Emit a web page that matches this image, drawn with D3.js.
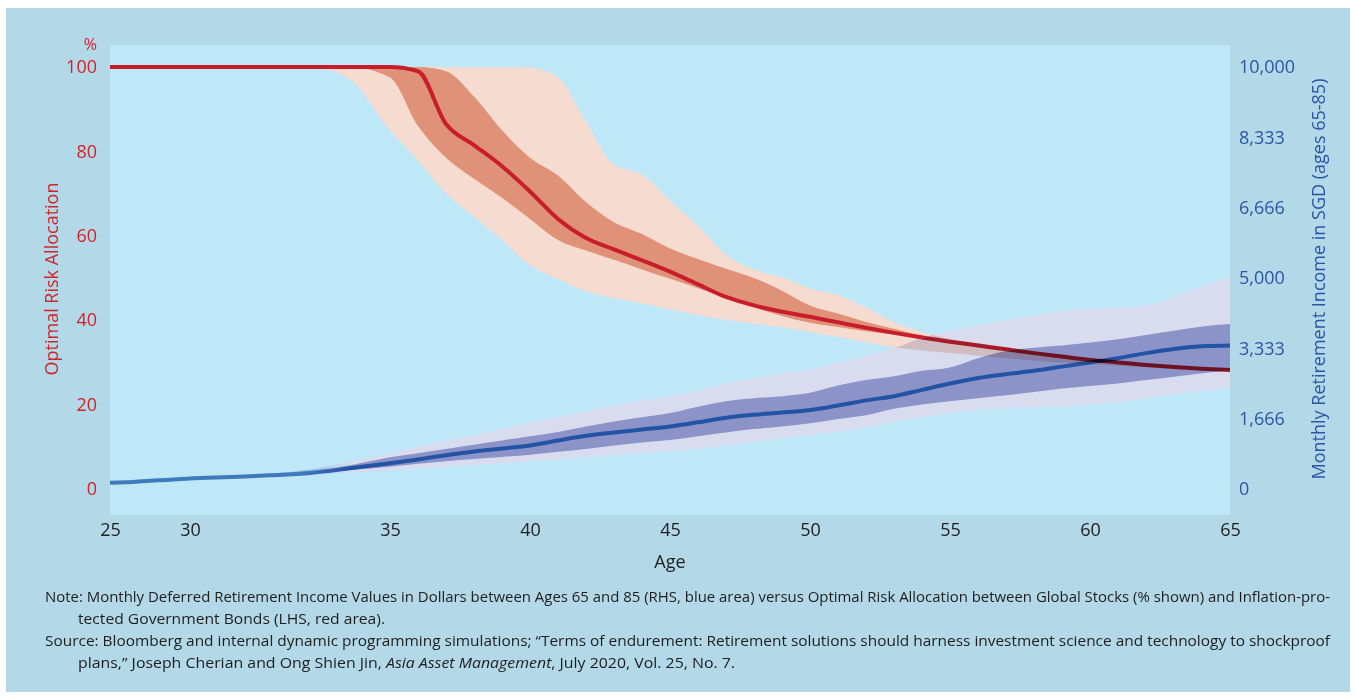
<!DOCTYPE html>
<html>
<head>
<meta charset="utf-8">
<script src="https://cdn.jsdelivr.net/npm/d3@7"></script>
<style>
  html, body { margin: 0; padding: 0; background: #fff; }
  svg { display: block; font-family: "Open Sans", "Noto Sans", sans-serif; }
</style>
</head>
<body>
<div id="chart"></div>
<script>
// ages on the x axis, one value per year
const ages = [25,26,27,28,29,30,31,32,33,34,35,36,37,38,39,40,41,42,43,44,45,
  46,47,48,49,50,51,52,53,54,55,56,57,58,59,60,61,62,63,64,65];

// optimal risk allocation, % in stocks (left axis)
const redMedian = [100,100,100,100,100,100,100,100,100,100,100,99,86.5,81.5,76.5,70.5,64,59.5,56.8,54.2,51.5,
  48.5,45.5,43.5,42,40.8,39.5,38.2,37,35.9,34.9,34,33.1,32.2,31.4,30.6,30,29.4,28.9,28.5,28.2];
const redInnerHi = [100,100,100,100,100,100,100,100,100,100,100,100,99,93,85,78.5,74.3,68,63.2,60.4,57,
  54.5,52.2,50,47,43.5,41.6,39.6,38,36.4,35.1,34.1,33.1,32.2,31.4,30.6,30,29.4,28.9,28.5,28.2];
const redInnerLo = [100,100,100,100,100,100,100,100,100,100,97.5,86,78.5,73.5,69,64,59,56.5,54.3,52,49.8,
  47.6,45.3,43,41,39.4,38.4,37.4,36.6,35.7,34.8,33.9,33.1,32.2,31.4,30.6,30,29.4,28.9,28.5,28.2];
const redOuterHi = [100,100,100,100,100,100,100,100,100,100,100,100,100,100,100,99.8,97.5,87,76.8,74.5,68.3,
  62.3,55.5,52,50.2,47.5,46,43,39.5,37.2,35.6,34.6,33.6,32.6,31.7,30.9,30.2,29.6,29.1,28.6,28.3];
const redOuterLo = [100,100,100,100,100,100,100,100,100,97,85,77.8,70,64.5,59,53,49.7,46.8,45.2,44,42.6,
  41.2,40.1,39.2,38.3,37.2,36,34.8,33.6,32.8,32.2,31.6,31,30.4,30,29.6,29.2,28.9,28.6,28.3,28.1];

// monthly retirement income, SGD (right axis)
const blueMedian = [150,160,185,205,225,250,285,325,380,490,610,700,800,890,960,1030,1150,1260,1340,1410,1480,
  1580,1690,1760,1810,1870,1980,2100,2200,2350,2500,2630,2720,2800,2900,3000,3100,3220,3320,3380,3400];
const blueInnerHi = [165,175,200,220,240,265,300,345,420,560,750,850,950,1050,1150,1250,1350,1480,1600,1700,1800,
  1950,2080,2150,2200,2280,2450,2580,2670,2800,2880,3100,3270,3350,3400,3470,3550,3650,3750,3850,3910];
const blueInnerLo = [135,145,170,190,210,235,270,305,350,450,530,600,660,710,760,810,880,950,1030,1100,1160,
  1250,1340,1420,1480,1560,1660,1750,1900,2000,2080,2150,2220,2300,2380,2440,2500,2580,2660,2740,2820];
const blueOuterHi = [180,190,215,235,255,285,320,365,460,650,850,1000,1150,1280,1420,1580,1700,1850,1980,2100,2200,
  2330,2500,2630,2740,2830,3000,3150,3340,3580,3750,3880,4000,4120,4220,4270,4300,4350,4550,4800,5020];
const blueOuterLo = [120,130,155,175,195,215,250,285,330,390,440,490,530,570,610,650,700,750,800,850,900,
  960,1030,1120,1200,1290,1360,1460,1590,1700,1800,1870,1920,1940,1950,2000,2060,2150,2250,2330,2390];

// tick labels
const xTicks = [25,30,35,40,45,50,55,60,65];
const leftTicks = [0,20,40,60,80,100];
const rightTicks = [0,1666.67,3333.33,5000,6666.67,8333.33,10000];
const rightTickLabels = ['0','1,666','3,333','5,000','6,666','8,333','10,000'];

const W = 1356, H = 697;
const plot = { left: 110, right: 1230, top: 45, bottom: 515 };

const svg = d3.select('#chart').append('svg').attr('width', W).attr('height', H);

svg.append('rect').attr('x', 6).attr('y', 8).attr('width', 1344).attr('height', 684).attr('fill', '#b3d8e7');
svg.append('rect').attr('x', plot.left).attr('y', plot.top)
  .attr('width', plot.right - plot.left).attr('height', plot.bottom - plot.top).attr('fill', '#bee7f8');

// the source axis is not uniform: 25-30 and 30-35 are squeezed/stretched
const x = d3.scaleLinear().domain([25, 30, 35, 65]).range([110, 190, 390, 1230]);
const yL = d3.scaleLinear().domain([0, 100]).range([489, 67]);
const yR = d3.scaleLinear().domain([0, 10000]).range([489, 67]);

const curve = d3.curveMonotoneX;
const band = (lo, hi, y) => d3.area().curve(curve)
  .x((d, i) => x(ages[i])).y0((d, i) => y(lo[i])).y1((d, i) => y(hi[i]))(ages);
const line = (v, y) => d3.line().curve(curve).x((d, i) => x(ages[i])).y((d, i) => y(v[i]))(ages);

const defs = svg.append('defs');
function grad(id, early, late) {
  const g = defs.append('linearGradient').attr('id', id).attr('gradientUnits', 'userSpaceOnUse')
    .attr('x1', x(25)).attr('x2', x(65)).attr('y1', 0).attr('y2', 0);
  const span = x(65) - x(25);
  g.append('stop').attr('offset', (x(32.8) - x(25)) / span).attr('stop-color', early);
  g.append('stop').attr('offset', (x(34) - x(25)) / span).attr('stop-color', late);
}
grad('gOuter', '#8cbde3', '#d8dcee');
grad('gInner', '#6aa3d5', '#8b93c8');
grad('gLine', '#3d7bbd', '#2452a5');

defs.append('clipPath').attr('id', 'blueClip')
  .append('path').attr('d', band(blueOuterLo, blueOuterHi, yR));

function drawRed(g) {
  g.append('path').attr('d', band(redOuterLo, redOuterHi, yL)).attr('fill', '#f6dbd0');
  g.append('path').attr('d', band(redInnerLo, redInnerHi, yL)).attr('fill', '#e09279');
  g.append('path').attr('d', line(redMedian, yL)).attr('fill', 'none')
    .attr('stroke', '#c81e2c').attr('stroke-width', 4);
}

drawRed(svg.append('g'));

const blue = svg.append('g');
blue.append('path').attr('d', band(blueOuterLo, blueOuterHi, yR)).attr('fill', 'url(#gOuter)');
blue.append('path').attr('d', band(blueInnerLo, blueInnerHi, yR)).attr('fill', 'url(#gInner)');
blue.append('path').attr('d', line(blueMedian, yR)).attr('fill', 'none')
  .attr('stroke', 'url(#gLine)').attr('stroke-width', 4);

// red drawn again over the blue area, multiplied, like the overprint in the source
drawRed(svg.append('g').attr('clip-path', 'url(#blueClip)').style('mix-blend-mode', 'multiply'));

// axes
const axL = svg.append('g').attr('transform', 'translate(101,0)')
  .call(d3.axisLeft(yL).tickValues(leftTicks).tickSize(0).tickPadding(4));
axL.selectAll('text').attr('fill', '#d2232a').style('font-size', '18px');

const axR = svg.append('g').attr('transform', 'translate(1235,0)')
  .call(d3.axisRight(yR).tickValues(rightTicks).tickSize(0).tickPadding(4)
    .tickFormat((d, i) => rightTickLabels[i]));
axR.selectAll('text').attr('fill', '#2b56a8').style('font-size', '18px');

const axB = svg.append('g').attr('transform', 'translate(0,523)')
  .call(d3.axisBottom(x).tickValues(xTicks).tickSize(0).tickPadding(0).tickFormat(d3.format('d')));
axB.selectAll('text').attr('fill', '#222').style('font-size', '18px');

svg.selectAll('.domain').remove();
svg.selectAll('.tick line').remove();
svg.selectAll('g').filter(function () { return this.getAttribute('font-family'); })
  .attr('font-family', null);

svg.append('text').attr('x', 97).attr('y', 50).attr('text-anchor', 'end')
  .attr('fill', '#d2232a').style('font-size', '16px').text('%');

svg.append('text').attr('transform', 'translate(58,279) rotate(-90)').attr('text-anchor', 'middle')
  .attr('fill', '#d2232a').style('font-size', '18px').text('Optimal Risk Allocation');

svg.append('text').attr('transform', 'translate(1325,279) rotate(-90)').attr('text-anchor', 'middle')
  .attr('fill', '#2b56a8').style('font-size', '18px').text('Monthly Retirement Income in SGD (ages 65-85)');

svg.append('text').attr('x', 670).attr('y', 568).attr('text-anchor', 'middle')
  .attr('fill', '#222').style('font-size', '18px').text('Age');

// notes
const notes = svg.append('g').attr('fill', '#1e1e1e').style('font-size', '15px');
notes.append('text').attr('x', 45).attr('y', 602)
  .attr('textLength', 1285).attr('lengthAdjust', 'spacingAndGlyphs')
  .text('Note: Monthly Deferred Retirement Income Values in Dollars between Ages 65 and 85 (RHS, blue area) versus Optimal Risk Allocation between Global Stocks (% shown) and Inflation-pro-');

notes.append('text').attr('x', 78).attr('y', 624)
  .attr('textLength', 307).attr('lengthAdjust', 'spacingAndGlyphs')
  .text('tected Government Bonds (LHS, red area).');

notes.append('text').attr('x', 45).attr('y', 646)
  .attr('textLength', 1285).attr('lengthAdjust', 'spacingAndGlyphs')
  .text('Source: Bloomberg and internal dynamic programming simulations; \u201cTerms of endurement: Retirement solutions should harness investment science and technology to shockproof');

const l4 = notes.append('text').attr('x', 78).attr('y', 668)
  .attr('textLength', 657).attr('lengthAdjust', 'spacingAndGlyphs');
l4.append('tspan').text('plans,\u201d Joseph Cherian and Ong Shien Jin, ');
l4.append('tspan').style('font-style', 'italic').text('Asia Asset Management');
l4.append('tspan').text(', July 2020, Vol. 25, No. 7.');
</script>
</body>
</html>
